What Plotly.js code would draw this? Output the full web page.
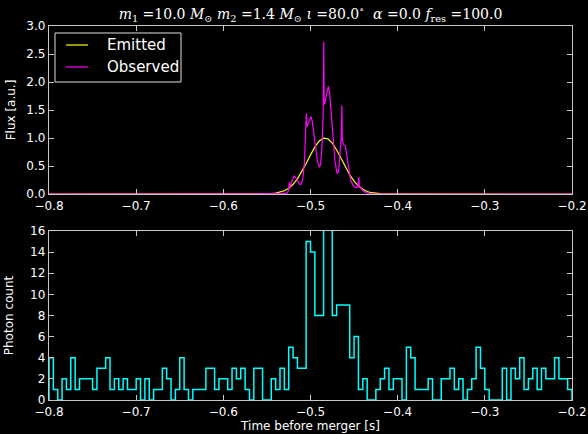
<!DOCTYPE html>
<html>
<head>
<meta charset="utf-8">
<script src="https://cdn.plot.ly/plotly-3.0.1.min.js"></script>
<style>html,body{margin:0;padding:0;background:#000;}#chart{width:588px;height:434px;}</style>
</head>
<body>
<div id="chart"></div>
<script>
// Emitted light curve
const emitT = [-0.8,-0.56,-0.555,-0.55,-0.545,-0.54,-0.535,-0.53,-0.525,-0.52,-0.515,-0.51,-0.505,-0.5,-0.495,-0.49,-0.485,-0.48,-0.475,-0.47,-0.465,-0.46,-0.455,-0.45,-0.445,-0.44,-0.435,-0.43,-0.425,-0.42,-0.415,-0.41,-0.2];
const emitF = [0,0,0.001,0.003,0.007,0.015,0.031,0.058,0.104,0.173,0.271,0.397,0.544,0.699,0.84,0.946,0.997,0.984,0.909,0.787,0.638,0.484,0.344,0.229,0.142,0.083,0.045,0.023,0.011,0.005,0.002,0.001,0];
// Observed (lensed) light curve
const obsT = [-0.8,-0.54,-0.53,-0.527,-0.525,-0.5245,-0.5238,-0.522,-0.519,-0.516,-0.513,-0.511,-0.509,-0.507,-0.5055,-0.5048,-0.5043,-0.503,-0.501,-0.4995,-0.498,-0.496,-0.494,-0.492,-0.49,-0.4885,-0.487,-0.4855,-0.4848,-0.4843,-0.4835,-0.482,-0.4805,-0.4795,-0.478,-0.476,-0.474,-0.472,-0.47,-0.469,-0.4675,-0.466,-0.4648,-0.464,-0.4635,-0.462,-0.46,-0.458,-0.456,-0.454,-0.451,-0.449,-0.446,-0.4445,-0.444,-0.442,-0.44,-0.437,-0.434,-0.43,-0.2];
const obsF = [0,0,0.005,0.02,0.06,0.21,0.12,0.2,0.32,0.28,0.18,0.17,0.25,0.55,1.0,1.44,1.2,1.25,1.35,1.38,1.3,1.05,0.78,0.58,0.48,0.52,0.8,1.4,2.72,1.6,1.62,1.75,1.88,1.92,1.8,1.4,0.95,0.6,0.4,0.36,0.45,0.7,1.0,1.58,0.95,0.88,0.86,0.65,0.4,0.25,0.15,0.12,0.12,0.3,0.14,0.1,0.06,0.03,0.01,0,0];
// Photon counts per bin
const binStart = -0.8;
const binWidth = 0.005;
const counts = [4,1,0,2,1,4,1,2,2,2,1,3,3,4,1,2,1,2,1,1,
                2,0,2,0,1,1,3,2,0,1,4,1,0,1,1,1,3,3,1,2,
                2,1,3,2,3,1,0,3,3,0,0,2,1,3,1,5,4,3,3,15,
                14,8,8,19,17,8,9,9,9,4,6,1,2,0,0,1,2,3,1,2,
                2,0,5,4,1,1,1,2,0,0,2,2,3,1,2,0,1,2,5,3,
                1,0,0,0,3,0,3,2,4,1,2,3,1,3,2,2,4,2,2,1];
const xTicks = [-0.8,-0.7,-0.6,-0.5,-0.4,-0.3,-0.2];
const legendNames = ['Emitted','Observed'];
const lineColors = ['#ffff00','#ff00ff'];

// step outline
const hx = [binStart], hy = [0];
for (let i = 0; i < counts.length; i++) { hx.push(binStart + i*binWidth); hy.push(counts[i]); }
hx.push(binStart + counts.length*binWidth); hy.push(0);

const axCol = '#c8c8c8';
const base = {
  showgrid:false, zeroline:false, showline:true, linecolor:axCol, linewidth:1.2, mirror:'allticks',
  ticks:'inside', ticklen:5, tickcolor:axCol, tickwidth:1,
  tickfont:{family:'DejaVu Sans', size:12, color:'#ffffff'}
};
const traces = [
  {x:emitT, y:emitF, mode:'lines', name:legendNames[0], line:{color:lineColors[0], width:1.2}, xaxis:'x', yaxis:'y', showlegend:false},
  {x:obsT, y:obsF, mode:'lines', name:legendNames[1], line:{color:lineColors[1], width:1.2}, xaxis:'x', yaxis:'y', showlegend:false},
  {x:hx, y:hy, mode:'lines', line:{color:'#00ffff', width:1.5, shape:'hv'}, showlegend:false, xaxis:'x2', yaxis:'y2'}
];

// hand-built legend box (paper coordinates)
const legY = [0.9492, 0.8904];
const shapes = [
  {type:'rect', xref:'paper', yref:'paper', x0:0.0115, x1:0.2524, y0:0.8503, y1:0.9813,
   fillcolor:'#000', line:{color:'#e0e0e0', width:1}, layer:'above'}
];
const annotations = [];
legendNames.forEach((n, i) => {
  shapes.push({type:'line', xref:'paper', yref:'paper', x0:0.0325, x1:0.0746, y0:legY[i], y1:legY[i],
               line:{color:lineColors[i], width:1.2}, layer:'above'});
  annotations.push({text:n, xref:'paper', yref:'paper', x:0.1071, y:legY[i], xanchor:'left', yanchor:'middle',
                    showarrow:false, font:{family:'DejaVu Sans', size:15, color:'#ffffff'}});
});

const layout = {
  width:588, height:434, paper_bgcolor:'#000', plot_bgcolor:'#000',
  margin:{l:49, r:16, t:26, b:34},
  title:{text:'<i>m</i><sub>1</sub> =10.0 <i>M</i><sub>⊙</sub> <i>m</i><sub>2</sub> =1.4 <i>M</i><sub>⊙</sub> <i>ι</i> =80.0<sup>∘</sup>  <i>α</i> =0.0 <i>f</i><sub>res</sub> =100.0',
         font:{family:'DejaVu Serif', size:14, color:'#ffffff'}, x:0.5, xref:'paper', xanchor:'center', y:0.968, yref:'container', yanchor:'middle'},
  xaxis:Object.assign({}, base, {domain:[0,1], range:[-0.8,-0.2], tickvals:xTicks, tickformat:'.1f', anchor:'y'}),
  yaxis:Object.assign({}, base, {domain:[0.5508,1], range:[0,3], dtick:0.5, tickformat:'.1f', anchor:'x',
         title:{text:'Flux [a.u.]', font:{family:'DejaVu Sans', size:12, color:'#ffffff'}, standoff:8}}),
  xaxis2:Object.assign({}, base, {domain:[0,1], range:[-0.8,-0.2], tickvals:xTicks, tickformat:'.1f', anchor:'y2',
         title:{text:'Time before merger [s]', font:{family:'DejaVu Sans', size:12, color:'#ffffff'}, standoff:2}}),
  yaxis2:Object.assign({}, base, {domain:[0,0.4519], range:[0,16], dtick:2, anchor:'x2',
         title:{text:'Photon count', font:{family:'DejaVu Sans', size:12, color:'#ffffff'}, standoff:14}}),
  shapes:shapes, annotations:annotations,
  showlegend:false
};
Plotly.newPlot('chart', traces, layout, {displayModeBar:false, staticPlot:true});
</script>
</body>
</html>
